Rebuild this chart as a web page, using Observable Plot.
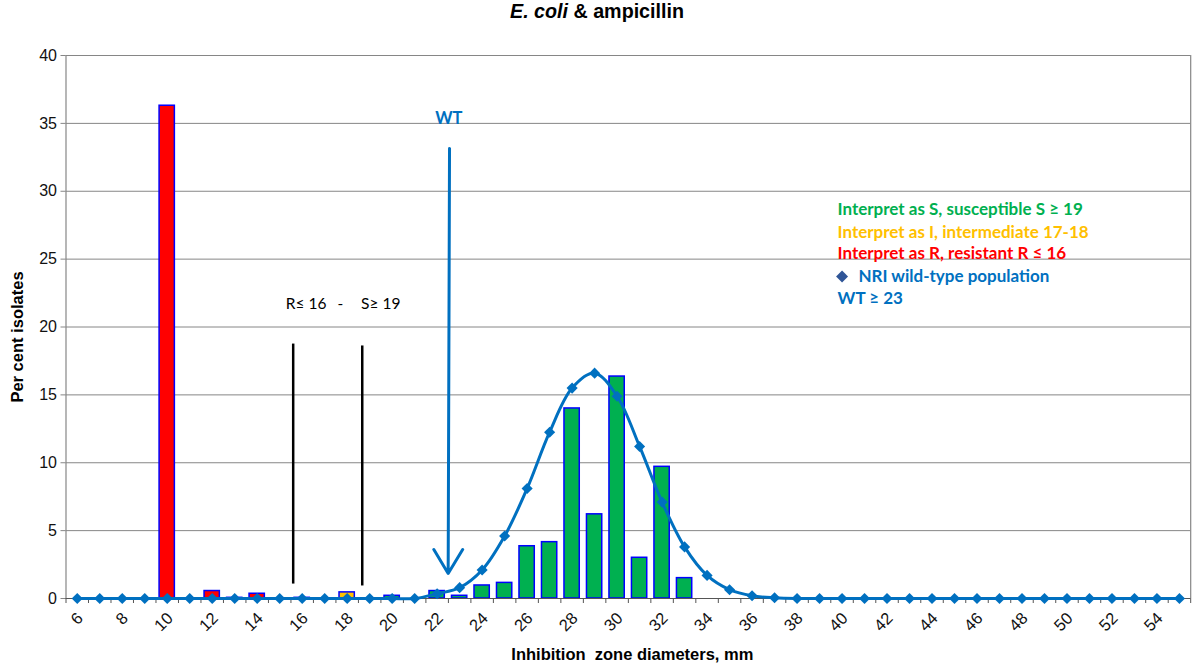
<!DOCTYPE html>
<html>
<head>
<meta charset="utf-8">
<script src="https://cdn.jsdelivr.net/npm/d3@7"></script>
<script src="https://cdn.jsdelivr.net/npm/@observablehq/plot@0.6"></script>
<style>
  body { margin: 0; background: #fff; }
  #title {
    height: 34px; line-height: 38px; text-align: center; overflow: hidden;
    font: bold 19.7px "Liberation Sans", Arial, sans-serif; color: #000;
  }
  #chart svg { display: block; }
</style>
</head>
<body>
<div id="title"><i>E. coli</i> &amp; ampicillin</div>
<div id="chart"></div>
<script>
// Inhibition zone diameters (mm), one category per millimetre
const diameters = [6, 7, 8, 9, 10, 11, 12, 13, 14, 15, 16, 17, 18, 19, 20, 21, 22, 23, 24, 25, 26, 27, 28, 29, 30,
                   31, 32, 33, 34, 35, 36, 37, 38, 39, 40, 41, 42, 43, 44, 45, 46, 47, 48, 49, 50, 51, 52, 53, 54, 55];

// Fitted wild-type population (per cent), one value per diameter
const wildTypePercent = [0, 0, 0, 0, 0, 0, 0, 0, 0, 0, 0, 0, 0, 0, 0, 0, 0.35, 0.8, 2.1, 4.6, 8.1, 12.25, 15.5, 16.6, 14.9,
                         11.2, 7.1, 3.8, 1.7, 0.65, 0.2, 0.05, 0, 0, 0, 0, 0, 0, 0, 0, 0, 0, 0, 0, 0, 0, 0, 0, 0, 0];

// Observed isolates (per cent) at the diameters where any were found
const isolateDiameters = [10, 12, 13, 14, 16, 18, 20, 22, 23, 24, 25, 26, 27, 28, 29, 30, 31, 32, 33];
const isolatePercent   = [36.3, 0.55, 0.05, 0.35, 0.05, 0.45, 0.2, 0.55, 0.2, 0.96, 1.15, 3.85, 4.15, 14.0, 6.2, 16.35, 3.0, 9.7, 1.5];

// Clinical breakpoints and wild-type cut-off (mm)
const resistantMax = 16;
const susceptibleMin = 19;
const wildTypeMin = 23;

// Axis ticks
const yTicks = [0, 5, 10, 15, 20, 25, 30, 35, 40];
const xTickLabels = [6, 8, 10, 12, 14, 16, 18, 20, 22, 24, 26, 28, 30, 32, 34, 36, 38, 40, 42, 44, 46, 48, 50, 52, 54];

// Legend lines
const legendLabels = [
  "Interpret as S, susceptible S \u2265 19",
  "Interpret as I, intermediate 17-18",
  "Interpret as R, resistant R \u2264 16",
  "NRI wild-type population",
  "WT \u2265 23"
];

const GREEN = "#00B050", ORANGE = "#FFC000", RED = "#FF0000", BLUE = "#0070C0";
const legendColors = [GREEN, ORANGE, RED, BLUE, BLUE];

const categoryColor = d => d <= resistantMax ? RED : d >= susceptibleMin ? GREEN : ORANGE;

const wildType = diameters.map((d, i) => ({d, v: wildTypePercent[i]}));
const isolates = isolateDiameters.map((d, i) => ({d, v: isolatePercent[i]}));
const bandEdges = [...diameters.map(d => d - 0.5), diameters[diameters.length - 1] + 0.5];
const halfBar = 0.34;

// Legend placement (data units inside the plot area)
const legendX = 39.8;
const legendY = [28.66, 26.96, 25.41, 23.72, 22.1];
const legend = legendLabels.map((t, i) => ({
  t, c: legendColors[i], y: legendY[i],
  x: i === 3 ? legendX + 0.93 : legendX
}));

// Breakpoint guide lines and their caption
const guides = [
  {x1: resistantMax - 0.4, x2: resistantMax - 0.4, y1: 18.78, y2: 1.1},
  {x1: susceptibleMin - 0.33, x2: susceptibleMin - 0.33, y1: 18.64, y2: 0.96}
];
const guideFont = {fontFamily: "Lato, 'Open Sans', sans-serif", fontSize: 15.5, fill: "#000"};

const chart = Plot.plot({
  width: 1194,
  height: 632,
  marginLeft: 65.5,
  marginRight: 3.8,
  marginTop: 21,
  marginBottom: 68,
  x: {domain: [5.5, 55.5]},
  y: {domain: [0, 40]},
  color: {type: "identity"},
  style: {fontFamily: "'Liberation Sans', Arial, sans-serif", background: "white", overflow: "visible"},
  marks: [
    Plot.gridY(yTicks, {stroke: "#868686", strokeOpacity: 1, strokeWidth: 1}),
    Plot.ruleX([5.5, 55.5], {stroke: "#868686", strokeWidth: 1.2}),
    Plot.axisY({ticks: yTicks, tickSize: 5, tickPadding: 4, fontSize: 16, stroke: "#868686", fill: "#111", label: null}),
    Plot.axisX({ticks: bandEdges, tickSize: 5, tickFormat: () => "", stroke: "#555", label: null}),
    Plot.text(xTickLabels, {
      x: d => d, y: 0, text: d => String(d), rotate: -45, textAnchor: "end",
      dx: 3, dy: 17, fontSize: 16.5, fill: "#111"
    }),
    Plot.text(["Per cent isolates"], {
      frameAnchor: "left", rotate: -90, textAnchor: "middle", dx: -48, dy: 10,
      fontSize: 16.5, fontWeight: "bold", fill: "#000"
    }),
    Plot.text(["Inhibition\u00a0 zone diameters, mm"], {
      frameAnchor: "bottom", dy: 61, dx: 4, fontSize: 16.5, fontWeight: "bold", fill: "#000"
    }),
    Plot.rectY(isolates, {
      x1: d => d.d - halfBar, x2: d => d.d + halfBar, y: "v",
      fill: d => categoryColor(d.d), stroke: "#0000FF", strokeWidth: 1.5
    }),
    Plot.ruleY([0], {stroke: "#555", strokeWidth: 1.2}),
    Plot.line(wildType, {x: "d", y: "v", stroke: BLUE, strokeWidth: 3, curve: "catmull-rom"}),
    Plot.dot(wildType, {x: "d", y: "v", symbol: "diamond2", r: 5, fill: BLUE, stroke: "none"}),
    Plot.link(guides, {x1: "x1", x2: "x2", y1: "y1", y2: "y2", stroke: "#000", strokeWidth: 2.5}),
    Plot.text([`R\u2264 ${resistantMax}`], {x: 15.27, y: 21.66, text: d => d, textAnchor: "start", ...guideFont}),
    Plot.text(["-"], {x: 17.7, y: 21.66, text: d => d, textAnchor: "middle", ...guideFont}),
    Plot.text([`S\u2265 ${susceptibleMin}`], {x: 18.62, y: 21.66, text: d => d, textAnchor: "start", ...guideFont}),
    Plot.arrow([{x1: wildTypeMin - 0.45, y1: 33.15, x2: wildTypeMin - 0.51, y2: 1.84}], {
      x1: "x1", y1: "y1", x2: "x2", y2: "y2", stroke: BLUE, strokeWidth: 3,
      headLength: 14, headAngle: 62
    }),
    Plot.text(["WT"], {
      x: wildTypeMin - 0.48, y: 35.36, text: d => d,
      fontFamily: "Lato, 'Open Sans', sans-serif", fontSize: 16.5, fontWeight: "bold", fill: BLUE
    }),
    Plot.text(legend, {
      x: "x", y: "y", text: "t", fill: "c", textAnchor: "start",
      fontFamily: "Lato, 'Open Sans', sans-serif", fontSize: 17, fontWeight: "bold"
    }),
    Plot.dot([legend[3]], {x: legendX + 0.2, y: "y", symbol: "diamond2", r: 5.4, fill: "#2F5597"})
  ]
});

document.getElementById("chart").appendChild(chart);
</script>
</body>
</html>
